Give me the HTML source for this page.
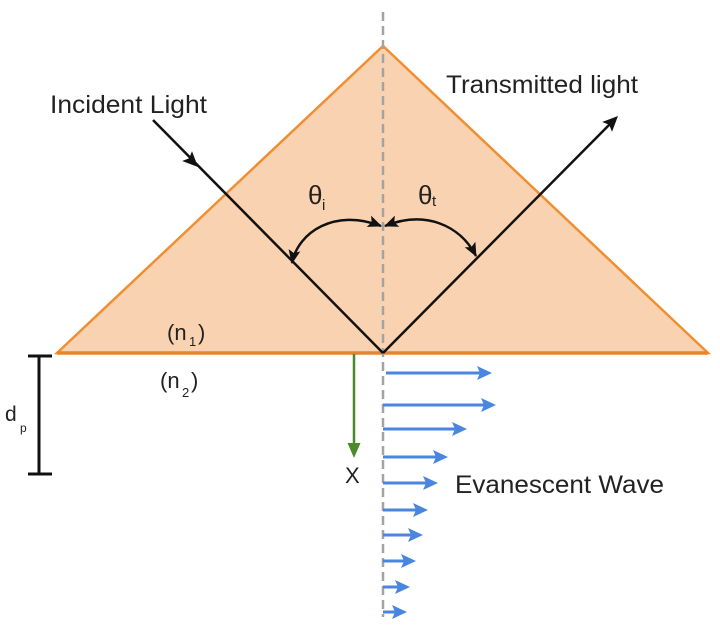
<!DOCTYPE html>
<html>
<head>
<meta charset="utf-8">
<style>
  html,body{margin:0;padding:0;background:#fff;}
  svg{display:block;}
  text{font-family:"Liberation Sans",Arial,sans-serif;fill:#222;}
</style>
</head>
<body>
<svg width="720" height="625" viewBox="0 0 720 625" xmlns="http://www.w3.org/2000/svg">
  <defs>
    <marker id="ab" markerUnits="userSpaceOnUse" viewBox="0 0 14 12" refX="13" refY="6" markerWidth="14" markerHeight="12" orient="auto-start-reverse">
      <path d="M0,0 L14,6 L0,12 L3,6 z" fill="#111"/>
    </marker>
  </defs>

  <!-- prism -->
  <polygon points="57,353 383,46 708,353" fill="#f9d3b1" stroke="#ef8f32" stroke-width="2.5" stroke-linejoin="miter"/>
  <line x1="57" y1="353" x2="708" y2="353" stroke="#e8852a" stroke-width="3.5"/>

  <!-- dashed normal -->
  <line x1="383" y1="12" x2="383" y2="617" stroke="#a3a3a3" stroke-width="2.5" stroke-dasharray="9,5"/>

  <!-- incident light -->
  <line x1="153" y1="120" x2="383" y2="353" stroke="#111" stroke-width="2.5"/>
  <polygon points="198,167 182.2,161 189.2,158.2 192,151.2" fill="#111"/>

  <!-- transmitted light -->
  <line x1="383" y1="353" x2="611" y2="123" stroke="#111" stroke-width="2.5"/>
  <polygon points="618,116 612,131.8 609.2,124.8 602.2,122" fill="#111"/>

  <!-- angle arcs -->
  <path d="M292,263 C298,232 335,208 381,226" fill="none" stroke="#111" stroke-width="2.5" marker-start="url(#ab)" marker-end="url(#ab)"/>
  <path d="M385,226 C425,210 460,225 476,256" fill="none" stroke="#111" stroke-width="2.5" marker-start="url(#ab)" marker-end="url(#ab)"/>

  <!-- angle labels -->
  <text x="308" y="204" font-size="26">θ</text>
  <text x="322" y="210" font-size="15">i</text>
  <text x="418" y="204" font-size="26">θ</text>
  <text x="432" y="206" font-size="15">t</text>

  <!-- main labels -->
  <text x="50" y="113" font-size="25" textLength="157" lengthAdjust="spacingAndGlyphs">Incident Light</text>
  <text x="446" y="93" font-size="25" textLength="192" lengthAdjust="spacingAndGlyphs">Transmitted light</text>
  <text x="455" y="493" font-size="25" textLength="209" lengthAdjust="spacingAndGlyphs">Evanescent Wave</text>

  <!-- refractive indices -->
  <text x="167" y="340" font-size="22">(n</text>
  <text x="189" y="346" font-size="13">1</text>
  <text x="198" y="340" font-size="22">)</text>

  <text x="160" y="388" font-size="22">(n</text>
  <text x="182" y="397" font-size="13">2</text>
  <text x="191" y="388" font-size="22">)</text>

  <!-- dp bracket -->
  <line x1="39" y1="356" x2="39" y2="474" stroke="#111" stroke-width="3"/>
  <line x1="28" y1="356" x2="52" y2="356" stroke="#111" stroke-width="3"/>
  <line x1="28" y1="474" x2="52" y2="474" stroke="#111" stroke-width="3"/>
  <text x="5" y="421" font-size="21">d</text>
  <text x="20" y="432" font-size="12">p</text>

  <!-- green arrow -->
  <line x1="354" y1="354" x2="354" y2="446" stroke="#4a8c2a" stroke-width="2.5"/>
  <polygon points="347.5,443 360.5,443 354,458" fill="#4a8c2a"/>
  <text x="345" y="483" font-size="22">X</text>

  <!-- evanescent wave arrows -->
  <g stroke="#4a86e0" stroke-width="3" fill="none">
    <line x1="386" y1="373" x2="480" y2="373"/>
    <line x1="383" y1="405" x2="484" y2="405"/>
    <line x1="383" y1="429" x2="455" y2="429"/>
    <line x1="383" y1="457" x2="436" y2="457"/>
    <line x1="383" y1="483" x2="426" y2="483"/>
    <line x1="383" y1="510" x2="416" y2="510"/>
    <line x1="383" y1="535" x2="411" y2="535"/>
    <line x1="383" y1="561" x2="404" y2="561"/>
    <line x1="383" y1="587" x2="398" y2="587"/>
    <line x1="383" y1="612" x2="395" y2="612"/>
  </g>
  <g fill="#4a86e0">
    <polygon points="477,366 492,373 477,380 480,373"/>
    <polygon points="481,398 496,405 481,412 484,405"/>
    <polygon points="452,422 467,429 452,436 455,429"/>
    <polygon points="433,450 448,457 433,464 436,457"/>
    <polygon points="423,476 438,483 423,490 426,483"/>
    <polygon points="413,503 428,510 413,517 416,510"/>
    <polygon points="408,528 423,535 408,542 411,535"/>
    <polygon points="401,554 416,561 401,568 404,561"/>
    <polygon points="395,580 410,587 395,594 398,587"/>
    <polygon points="392,605 407,612 392,619 395,612"/>
  </g>
</svg>
</body>
</html>
